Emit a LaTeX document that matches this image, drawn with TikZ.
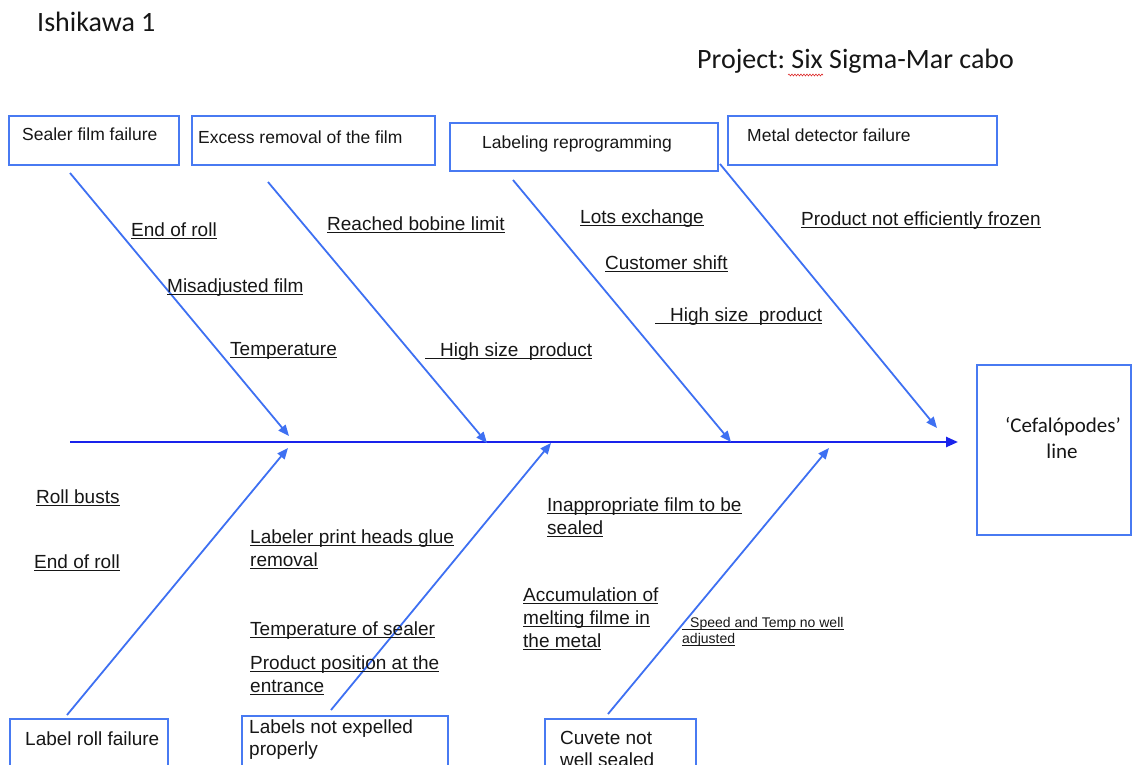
\documentclass[tikz,border=0pt]{standalone}
\usepackage{fontspec}
\setmainfont{Liberation Sans}
\newfontfamily\calibri{Carlito}
\usetikzlibrary{arrows.meta,decorations.pathmorphing}

\definecolor{bonecol}{RGB}{62,112,242}
\definecolor{spinecol}{RGB}{25,35,235}
\definecolor{boxcol}{RGB}{72,122,242}
\definecolor{inkcol}{RGB}{22,22,22}
\definecolor{spellred}{RGB}{220,40,40}

% underlined text with a fixed underline position
\newcommand\ulw[1]{\setbox0\hbox{#1}\rlap{\rule[-2.8pt]{\wd0}{1pt}}\box0}
% one underlined line of a stacked label
\newcommand\uline[1]{\hbox{\ulw{#1}}}

\frenchspacing

\begin{document}
\begin{tikzpicture}[x=1pt,y=-1pt,
  bone/.style={draw=bonecol,line width=1.8pt,-{Triangle[length=11pt,width=9pt]}},
  spine/.style={draw=spinecol,line width=2.4pt,-{Triangle[length=12pt,width=10pt]}},
  frame/.style={draw=boxcol,line width=2pt,inner sep=0pt,outer sep=0pt,anchor=north west},
  lbl/.style={anchor=base west,inner sep=0pt,text=inkcol,font=\fontsize{19}{23}\selectfont},
  small/.style={anchor=base west,inner sep=0pt,text=inkcol,font=\fontsize{14}{16.5}\selectfont},
  toptxt/.style={anchor=base west,inner sep=0pt,text=inkcol,font=\fontsize{17.5}{21}\selectfont},
  bottxt/.style={anchor=base west,inner sep=0pt,text=inkcol,font=\fontsize{19}{22}\selectfont},
  title/.style={anchor=base west,inner sep=0pt,text=inkcol,font=\calibri\fontsize{28}{32}\selectfont}]
\useasboundingbox (0,0) rectangle (1132,765);
\clip (0,0) rectangle (1132,765);

% titles
\node[title] (ttl) at (37,32) {Ishikawa 1};
\node[title] (proj) at (697,69) {Project: Six Sigma-Mar cabo};
\draw[spellred,line width=0.6pt,decorate,decoration={snake,amplitude=0.9pt,segment length=3pt}]
  (788,75) -- (823,75);

% cause boxes, top row
\node[frame,minimum width=170pt,minimum height=49pt] (c1) at (9,116) {};
\node[frame,minimum width=243pt,minimum height=49pt] (c2) at (192,116) {};
\node[frame,minimum width=268pt,minimum height=48pt] (c3) at (450,123) {};
\node[frame,minimum width=269pt,minimum height=49pt] (c4) at (728,116) {};
\node[toptxt] (c1t) at (22,140) {Sealer film failure};
\node[toptxt] (c2t) at (198,143) {Excess removal of the film};
\node[toptxt] (c3t) at (482,148) {Labeling reprogramming};
\node[toptxt] (c4t) at (747,142) {Metal detector failure};

% cause boxes, bottom row
\node[frame,minimum width=158pt,minimum height=70pt] (c5) at (10,719) {};
\node[frame,minimum width=206pt,minimum height=70pt] (c6) at (242,716) {};
\node[frame,minimum width=151pt,minimum height=70pt] (c7) at (545,719) {};
\node[bottxt] (c5t) at (25,745) {Label roll failure};
\node[bottxt] (c6t) at (249,733) {\vtop{\baselineskip=22pt\hbox{Labels not expelled}\hbox{properly}}};
\node[bottxt] (c7t) at (560,744) {\vtop{\baselineskip=22pt\hbox{Cuvete not}\hbox{well sealed}}};

% effect box
\node[frame,minimum width=154pt,minimum height=170pt] (eff) at (977,365) {};
\node[anchor=base,inner sep=0pt,text=inkcol,font=\calibri\fontsize{21}{26}\selectfont] (efft1) at (1063,432) {‘Cefalópodes’};
\node[anchor=base,inner sep=0pt,text=inkcol,font=\calibri\fontsize{21}{26}\selectfont] (efft2) at (1062,458) {line};

% spine
\coordinate (sp0) at (70,442);
\coordinate (sp1) at (958,442);
\draw[spine] (sp0) -- (sp1);

% upper bones
\coordinate (u1a) at (70,173);  \coordinate (u1b) at (289,436);
\coordinate (u2a) at (268,182); \coordinate (u2b) at (487,443);
\coordinate (u3a) at (513,180); \coordinate (u3b) at (731,442);
\coordinate (u4a) at (720,164); \coordinate (u4b) at (937,428);
\draw[bone] (u1a) -- (u1b);
\draw[bone] (u2a) -- (u2b);
\draw[bone] (u3a) -- (u3b);
\draw[bone] (u4a) -- (u4b);

% lower bones
\coordinate (l1a) at (67,715);  \coordinate (l1b) at (288,448);
\coordinate (l2a) at (331,710); \coordinate (l2b) at (551,443);
\coordinate (l3a) at (608,714); \coordinate (l3b) at (829,448);
\draw[bone] (l1a) -- (l1b);
\draw[bone] (l2a) -- (l2b);
\draw[bone] (l3a) -- (l3b);

% sub-causes, upper half
\node[lbl] (s1) at (131,236) {\ulw{End of roll}};
\node[lbl] (s2) at (167,292) {\ulw{Misadjusted film}};
\node[lbl] (s3) at (230,355) {\ulw{Temperature}};
\node[lbl] (s4) at (327,230) {\ulw{Reached bobine limit}};
\node[lbl] (s5) at (425,356) {\ulw{\hspace{15pt}High size\ \ product}};
\node[lbl] (s6) at (580,223) {\ulw{Lots exchange}};
\node[lbl] (s7) at (605,269) {\ulw{Customer shift}};
\node[lbl] (s8) at (655,321) {\ulw{\hspace{15pt}High size\ \ product}};
\node[lbl] (s9) at (801,225) {\ulw{Product not efficiently frozen}};

% sub-causes, lower half
\node[lbl] (s10) at (36,503) {\ulw{Roll busts}};
\node[lbl] (s11) at (34,568) {\ulw{End of roll}};
\node[lbl] (s12) at (250,543) {\vtop{\baselineskip=23.5pt\uline{Labeler print heads glue}\uline{removal}}};
\node[lbl] (s13) at (250,635) {\ulw{Temperature of sealer}};
\node[lbl] (s14) at (250,669) {\vtop{\baselineskip=23pt\uline{Product position at the}\uline{entrance}}};
\node[lbl] (s15) at (547,511) {\vtop{\baselineskip=23pt\uline{Inappropriate film to be}\uline{sealed}}};
\node[lbl] (s16) at (523,601) {\vtop{\baselineskip=23pt\uline{Accumulation of}\uline{melting filme in}\uline{the metal}}};
\node[small] (s17) at (682,627) {\vtop{\baselineskip=16.5pt\uline{\hspace{8pt}Speed and Temp no well}\uline{adjusted}}};
\end{tikzpicture}
\end{document}
